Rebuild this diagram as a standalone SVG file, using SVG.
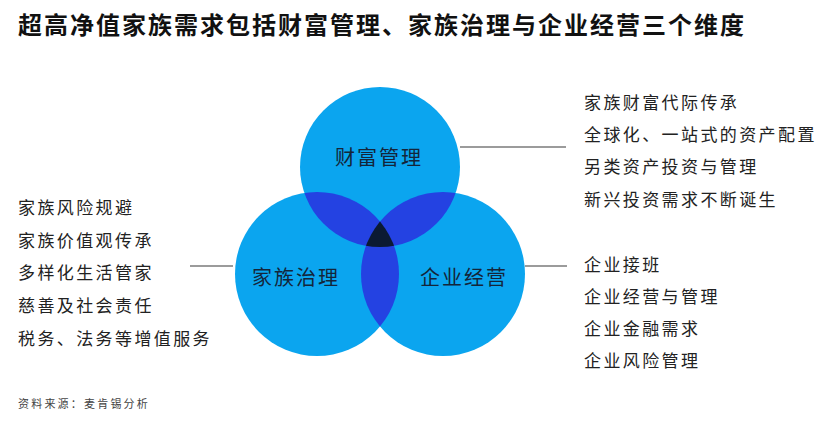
<svg xmlns="http://www.w3.org/2000/svg" width="822" height="421" viewBox="0 0 822 421">
<style>
text{font-family:"Noto Sans CJK SC","Noto Sans",sans-serif}
.title{font-size:24px;font-weight:bold;fill:#111;letter-spacing:2px}
.item{font-size:17px;fill:#222;letter-spacing:2.4px}
.lbl{font-size:20px;fill:#14253a;letter-spacing:2px;text-anchor:middle}
.src{font-size:11px;fill:#444;letter-spacing:2.2px}
.conn{stroke:#7a7a7a;stroke-width:1.5;fill:none}
.c{fill:#0ba5ef}
.o2{fill:#2442e2}
.o3{fill:#0b1a33}
</style>
<defs>
<clipPath id="cT"><circle cx="380" cy="167" r="80"/></clipPath>
<clipPath id="cL"><circle cx="317" cy="274" r="82"/></clipPath>
<clipPath id="cR"><circle cx="443" cy="274" r="82"/></clipPath>
</defs>
<rect width="822" height="421" fill="#fff"/>
<text class="title" x="18" y="34">超高净值家族需求包括财富管理、家族治理与企业经营三个维度</text>
<g id="circles">
<circle class="c" cx="380" cy="167" r="80"/>
<circle class="c" cx="317" cy="274" r="82"/>
<circle class="c" cx="443" cy="274" r="82"/>
<g clip-path="url(#cT)"><circle class="o2" cx="317" cy="274" r="82"/><circle class="o2" cx="443" cy="274" r="82"/></g>
<g clip-path="url(#cL)"><circle class="o2" cx="443" cy="274" r="82"/></g>
<g clip-path="url(#cT)"><g clip-path="url(#cL)"><circle class="o3" cx="443" cy="274" r="82"/></g></g>
</g>
<g id="node-wealth"><text class="lbl" x="379" y="165">财富管理</text></g>
<g id="node-family"><text class="lbl" x="296" y="285">家族治理</text></g>
<g id="node-business"><text class="lbl" x="464" y="285">企业经营</text></g>
<g id="connectors">
<line class="conn" x1="460" y1="147" x2="566" y2="147"/>
<line class="conn" x1="190" y1="266" x2="233" y2="266"/>
<line class="conn" x1="525" y1="266" x2="567" y2="266"/>
</g>
<g id="list-family">
<text class="item" x="18" y="214">家族风险规避</text>
<text class="item" x="18" y="247">家族价值观传承</text>
<text class="item" x="18" y="279">多样化生活管家</text>
<text class="item" x="18" y="312">慈善及社会责任</text>
<text class="item" x="18" y="345">税务、法务等增值服务</text>
</g>
<g id="list-wealth">
<text class="item" x="584" y="109">家族财富代际传承</text>
<text class="item" x="584" y="141">全球化、一站式的资产配置</text>
<text class="item" x="584" y="173">另类资产投资与管理</text>
<text class="item" x="584" y="206">新兴投资需求不断诞生</text>
</g>
<g id="list-business">
<text class="item" x="584" y="271">企业接班</text>
<text class="item" x="584" y="303">企业经营与管理</text>
<text class="item" x="584" y="335">企业金融需求</text>
<text class="item" x="584" y="367">企业风险管理</text>
</g>
<text class="src" x="18" y="408">资料来源：麦肯锡分析</text>
</svg>
